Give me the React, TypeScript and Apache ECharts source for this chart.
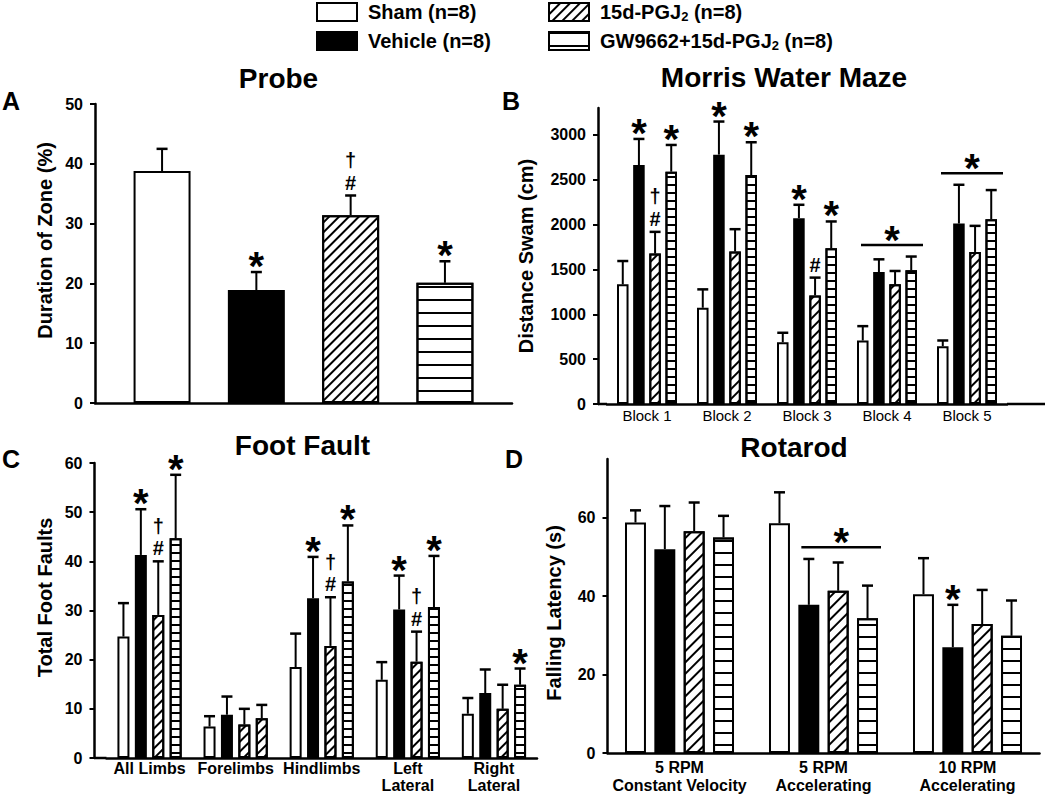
import React, { useEffect, useRef } from 'react';
import * as echarts from 'echarts';

const FONT = '"Liberation Sans", Arial, Helvetica, sans-serif';

// ---------- Data ----------
const groupNames = ['Sham (n=8)', 'Vehicle (n=8)', '15d-PGJ2 (n=8)', 'GW9662+15d-PGJ2 (n=8)'];

// Panel A - Probe
const probeCategories = [''];
const probeMeans = [[38.8], [18.9], [31.4], [20.1]];
const probeSems = [[3.7], [3.0], [3.3], [3.6]];
const probeMarks = [[''], ['*'], ['†#'], ['*']];
const probeTicks = [0, 10, 20, 30, 40, 50];

// Panel B - Morris Water Maze
const mazeCategories = ['Block 1', 'Block 2', 'Block 3', 'Block 4', 'Block 5'];
const mazeMeans = [
  [1334, 1073, 689, 708, 644],
  [2664, 2780, 2072, 1471, 2012],
  [1677, 1699, 1211, 1334, 1695],
  [2590, 2553, 1736, 1490, 2061],
];
const mazeSems = [
  [260, 205, 105, 160, 64],
  [291, 369, 149, 142, 432],
  [242, 250, 198, 149, 291],
  [298, 365, 299, 154, 324],
];
const mazeMarks = [
  ['', '', '', '', ''],
  ['*', '*', '*', '', ''],
  ['†#', '', '#', '', ''],
  ['*', '*', '*', '', ''],
];
// [category, level, first bar, last bar]
const mazeGroupMarks = [
  [3, 1774, 0, 3],
  [4, 2572, 0, 3],
];
const mazeTicks = [0, 500, 1000, 1500, 2000, 2500, 3000];

// Panel C - Foot Fault
const footCategories = ['All Limbs', 'Forelimbs', 'Hindlimbs', 'Left\nLateral', 'Right\nLateral'];
const footMeans = [
  [24.7, 6.4, 18.5, 15.9, 9.0],
  [41.3, 8.8, 32.5, 30.2, 13.2],
  [29.1, 6.8, 22.8, 19.6, 10.0],
  [44.7, 8.1, 35.9, 30.7, 14.9],
];
const footSems = [
  [6.8, 2.1, 6.8, 3.6, 3.2],
  [9.3, 3.7, 8.4, 6.9, 4.8],
  [10.9, 3.2, 9.9, 6.1, 4.9],
  [12.9, 2.7, 11.4, 10.4, 3.3],
];
const footMarks = [
  ['', '', '', '', ''],
  ['*', '', '*', '*', ''],
  ['†#', '', '†#', '†#', ''],
  ['*', '', '*', '*', '*'],
];
const footDiagonalGw = [1]; // category whose GW bar is printed with diagonal hatching
const footTicks = [0, 10, 20, 30, 40, 50, 60];

// Panel D - Rotarod
const rotaCategories = ['5 RPM\nConstant Velocity', '5 RPM\nAccelerating', '10 RPM\nAccelerating'];
const rotaMeans = [
  [58.8, 58.6, 40.5],
  [52.0, 37.8, 27.0],
  [56.6, 41.4, 32.9],
  [55.0, 34.4, 29.9],
];
const rotaSems = [
  [3.1, 7.9, 9.2],
  [11.0, 11.7, 10.8],
  [7.3, 7.2, 8.7],
  [5.5, 8.3, 9.0],
];
const rotaMarks = [
  ['', '', ''],
  ['', '', '*'],
  ['', '', ''],
  ['', '', ''],
];
const rotaGroupMarks = [[1, 52.5, 1, 3]];
const rotaTicks = [0, 20, 40, 60];

// ---------- Layout ----------
const panels: any[] = [
  {
    categories: probeCategories, means: probeMeans, sems: probeSems, marks: probeMarks, groupMarks: [],
    ticks: probeTicks, max: 50, interval: 10,
    grid: { left: 95, top: 104, width: 417, height: 299 }, offset: 0,
    catGap: 0.185, barGap: 0.655, markInset: [4, 6],
    yName: 'Duration of Zone (%)', nameGap: 40, namePad: [0, 0, 0, 26],
    xLabel: null, diagGap: 5, horizGap: 11, diagItems: [],
  },
  {
    categories: mazeCategories, means: mazeMeans, sems: mazeSems, marks: mazeMarks, groupMarks: mazeGroupMarks,
    ticks: mazeTicks, max: 3300, interval: 500,
    grid: { left: 607, top: 108, width: 400, height: 296 }, offset: 9,
    catGap: 0.25, barGap: 0.4, markInset: [4, 6],
    yName: 'Distance Swam (cm)', nameGap: 62, namePad: [0, 0, 0, 0],
    xLabel: { fontSize: 15, fontWeight: 'normal', margin: 4 }, diagGap: 5, horizGap: 6, diagItems: [],
  },
  {
    categories: footCategories, means: footMeans, sems: footSems, marks: footMarks, groupMarks: [],
    ticks: footTicks, max: 60, interval: 10,
    grid: { left: 106.5, top: 463, width: 430.5, height: 295 }, offset: 12,
    catGap: 0.254, barGap: 0.45, markInset: [4, 6],
    yName: 'Total Foot Faults', nameGap: 40, namePad: [0, 0, 0, 26],
    xLabel: { fontSize: 16, fontWeight: 'bold', lineHeight: 17, margin: 2 }, diagGap: 5, horizGap: 6,
    diagItems: footDiagonalGw,
  },
  {
    categories: rotaCategories, means: rotaMeans, sems: rotaSems, marks: rotaMarks, groupMarks: rotaGroupMarks,
    ticks: rotaTicks, max: 75, interval: 20,
    grid: { left: 607.5, top: 459, width: 432, height: 294 }, offset: 0,
    catGap: 0.243, barGap: 0.4, markInset: [3, 3],
    yName: 'Falling Latency (s)', nameGap: 44, namePad: [0, 14, 0, 0],
    xLabel: { fontSize: 16, fontWeight: 'bold', lineHeight: 18, margin: 5 }, diagGap: 6, horizGap: 10,
    diagItems: [],
  },
];

const decalDiag = (gap: number) => ({
  symbol: 'rect', symbolSize: 1, dashArrayX: [1, 0], dashArrayY: [2, gap], rotation: -Math.PI / 4, color: '#000',
});
const decalHoriz = (gap: number) => ({
  symbol: 'rect', symbolSize: 1, dashArrayX: [1, 0], dashArrayY: [2, gap], rotation: 0, color: '#000',
});

function barStyle(g: number, p: any) {
  const base = { borderColor: '#000', borderWidth: 2 };
  if (g === 0) return { ...base, color: '#fff' };
  if (g === 1) return { ...base, color: '#000' };
  if (g === 2) return { ...base, color: '#fff', decal: decalDiag(p.diagGap) };
  return { ...base, color: '#fff', decal: decalHoriz(p.horizGap) };
}

function barPos(api: any, p: any, cat: number, idx: number) {
  const band = api.size([1, 0])[0];
  const w = (band * (1 - p.catGap)) / (4 + 3 * p.barGap);
  const total = 4 * w + 3 * p.barGap * w;
  const c = api.coord([cat, 0])[0];
  return { x: c - total / 2 + idx * w * (1 + p.barGap) + w / 2, w };
}

function txt(s: string, x: number, y: number, size: number, vAlign = 'middle', lineHeight?: number) {
  const style: any = {
    text: s, font: `bold ${size}px ${FONT}`, fill: '#000',
    textAlign: 'center', textVerticalAlign: vAlign, align: 'center', verticalAlign: vAlign,
  };
  if (lineHeight) style.lineHeight = lineHeight;
  return { type: 'text', x, y, style };
}

// annotation symbols above an error-bar cap (base = cap y)
function symbolStack(mark: string, x: number, base: number) {
  if (mark === '*') return [txt('*', x, base - 6, 40)];
  if (mark === '#') return [txt('#', x, base - 13, 20)];
  if (mark === '†#') return [txt('†\n#', x, base - 1.7, 20, 'bottom', 22.5)];
  return [];
}

function errorRender(p: any, g: number) {
  return (params: any, api: any) => {
    const cat = api.value(0);
    const mean = api.value(1);
    const sem = api.value(2);
    const { x } = barPos(api, p, cat, g);
    const yTop = api.coord([cat, mean])[1];
    const yCap = api.coord([cat, mean + sem])[1];
    const children: any[] = [
      { type: 'line', shape: { x1: x, y1: yTop, x2: x, y2: yCap }, style: { stroke: '#000', lineWidth: 2 } },
      { type: 'line', shape: { x1: x - 5.5, y1: yCap, x2: x + 5.5, y2: yCap }, style: { stroke: '#000', lineWidth: 2.5 } },
    ];
    const mark = p.marks[g][params.dataIndex];
    if (mark) children.push(...symbolStack(mark, x, yCap));
    return { type: 'group', children };
  };
}

function groupMarkRender(p: any) {
  return (params: any, api: any) => {
    const cat = api.value(0);
    const level = api.value(1);
    const a = barPos(api, p, cat, api.value(2));
    const b = barPos(api, p, cat, api.value(3));
    const x1 = a.x - a.w / 2 + p.markInset[0];
    const x2 = b.x + b.w / 2 + p.markInset[1];
    const y = api.coord([cat, level])[1];
    return {
      type: 'group',
      children: [
        { type: 'line', shape: { x1, y1: y, x2, y2: y }, style: { stroke: '#000', lineWidth: 2.5 } },
        ...symbolStack('*', (x1 + x2) / 2, y + 1),
      ],
    };
  };
}

function buildOption() {
  const series: any[] = [];
  panels.forEach((p, i) => {
    for (let g = 0; g < 4; g++) {
      series.push({
        type: 'bar',
        name: groupNames[g],
        xAxisIndex: i,
        yAxisIndex: i,
        barGap: `${p.barGap * 100}%`,
        barCategoryGap: `${p.catGap * 100}%`,
        itemStyle: barStyle(g, p),
        data: p.means[g].map((v: number, c: number) =>
          g === 3 && p.diagItems.includes(c)
            ? { value: v, itemStyle: { decal: decalDiag(p.diagGap) } }
            : v
        ),
      });
    }
    for (let g = 0; g < 4; g++) {
      series.push({
        type: 'custom',
        xAxisIndex: i,
        yAxisIndex: i,
        silent: true,
        z: 3,
        renderItem: errorRender(p, g),
        data: p.means[g].map((m: number, c: number) => [c, m, p.sems[g][c]]),
      });
    }
    if (p.groupMarks.length) {
      series.push({
        type: 'custom',
        xAxisIndex: i,
        yAxisIndex: i,
        silent: true,
        z: 3,
        renderItem: groupMarkRender(p),
        data: p.groupMarks,
      });
    }
  });

  const legendText = {
    fontSize: 20, fontWeight: 'bold', color: '#000', fontFamily: FONT, lineHeight: 22, padding: [0, 0, 0, 6],
    rich: { sub: { fontSize: 13, fontWeight: 'bold', color: '#000', fontFamily: FONT, lineHeight: 22, padding: [9, 0, 0, 0] } },
  };
  const legendCommon = {
    orient: 'vertical', icon: 'rect', itemWidth: 40, itemHeight: 18, itemGap: 7, padding: 0,
    selectedMode: false, textStyle: legendText,
    itemStyle: { borderColor: '#000', borderWidth: 2 },
    formatter: (name: string) => name.replace('PGJ2', 'PGJ{sub|2}'),
  };

  const titles = [
    { t: 'Probe', x: 278.5, y: 78 },
    { t: 'Morris Water Maze', x: 784, y: 77 },
    { t: 'Foot Fault', x: 302.5, y: 445 },
    { t: 'Rotarod', x: 794, y: 447 },
  ];
  const letters = [
    { t: 'A', x: 2, y: 101 },
    { t: 'B', x: 502, y: 101 },
    { t: 'C', x: 2, y: 459 },
    { t: 'D', x: 505, y: 459 },
  ];
  const extLines = [
    [598, 404, 607, 404],
    [1007, 404, 1045, 404],
    [94.5, 758, 106.5, 758],
  ];

  return {
    animation: false,
    backgroundColor: '#fff',
    textStyle: { fontFamily: FONT, color: '#000' },
    legend: [
      { ...legendCommon, data: [groupNames[0], groupNames[1]], left: 316, top: 1 },
      { ...legendCommon, data: [groupNames[2], groupNames[3]], left: 548, top: 1 },
    ],
    grid: panels.map((p) => ({ ...p.grid, containLabel: false, outerBoundsMode: 'none' })),
    xAxis: panels.map((p, i) => ({
      type: 'category',
      gridIndex: i,
      data: p.categories,
      axisLine: { show: true, onZero: false, lineStyle: { color: '#000', width: 2.5 } },
      axisTick: { show: false },
      splitLine: { show: false },
      axisLabel: p.xLabel
        ? { show: true, interval: 0, color: '#000', fontFamily: FONT, ...p.xLabel }
        : { show: false },
    })),
    yAxis: panels.map((p, i) => ({
      type: 'value',
      gridIndex: i,
      min: 0,
      max: p.max,
      interval: p.interval,
      offset: p.offset,
      axisLine: { show: true, lineStyle: { color: '#000', width: 2.5 } },
      axisTick: { show: true, length: 5, customValues: p.ticks, lineStyle: { color: '#000', width: 2 } },
      axisLabel: {
        customValues: p.ticks, color: '#000', fontWeight: 'bold', fontSize: 16, fontFamily: FONT, margin: 12,
        formatter: (v: number) => String(v),
      },
      splitLine: { show: false },
      name: p.yName,
      nameLocation: 'middle',
      nameGap: p.nameGap,
      nameTextStyle: { fontSize: 20, fontWeight: 'bold', color: '#000', fontFamily: FONT, padding: p.namePad },
    })),
    series,
    graphic: {
      elements: [
        ...titles.map((o) => ({
          type: 'text', x: o.x, y: o.y,
          style: { text: o.t, font: `bold 28px ${FONT}`, fill: '#000', textAlign: 'center', textVerticalAlign: 'middle', align: 'center', verticalAlign: 'middle' },
        })),
        ...letters.map((o) => ({
          type: 'text', x: o.x, y: o.y,
          style: { text: o.t, font: `bold 25px ${FONT}`, fill: '#000', textAlign: 'left', textVerticalAlign: 'middle', align: 'left', verticalAlign: 'middle' },
        })),
        ...extLines.map((l) => ({
          type: 'line', shape: { x1: l[0], y1: l[1], x2: l[2], y2: l[3] },
          style: { stroke: '#000', lineWidth: 2.5 },
        })),
      ],
    },
  };
}

export default function App() {
  const ref = useRef<HTMLDivElement>(null);
  useEffect(() => {
    const chart = echarts.init(ref.current as HTMLDivElement, null, { renderer: 'svg' });
    chart.setOption(buildOption() as any);
    return () => chart.dispose();
  }, []);
  return (
    <div
      ref={ref}
      style={{ position: 'absolute', left: 0, top: 0, width: 1050, height: 795, background: '#fff' }}
    />
  );
}
